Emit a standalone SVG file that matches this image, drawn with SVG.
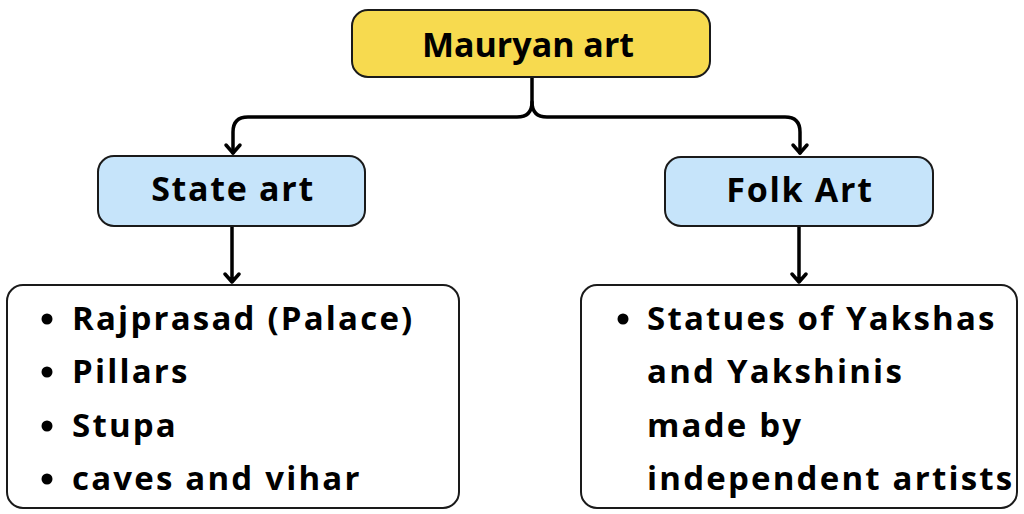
<svg xmlns="http://www.w3.org/2000/svg" width="1024" height="514" viewBox="0 0 1024 514">
<style>
.box{stroke:#1a1a1a;stroke-width:2}
.t{font-family:"Open Sans","Noto Sans","Liberation Sans",sans-serif;font-weight:bold;fill:#000}
.m{font-size:34px}
.h{font-size:34px;letter-spacing:1.7px}
.b{font-size:33px;letter-spacing:2.2px}
.c{fill:none;stroke:#000;stroke-width:3.5;stroke-linecap:round;stroke-linejoin:round}
</style>
<rect width="1024" height="514" fill="#fff"/>
<g id="connectors">
<path class="c" d="M532,78 L532,102 Q532,117 517,117 L248,117 Q233,117 233,132 L233,153"/>
<path class="c" d="M532,102 Q532,117 547,117 L785,117 Q800,117 800,132 L800,153"/>
<path class="c" d="M226,145 L233,153 L240,145"/>
<path class="c" d="M793,145 L800,153 L807,145"/>
<path class="c" d="M232,227 L232,282 M225,274 L232,282 L239,274"/>
<path class="c" d="M799,227 L799,282 M792,274 L799,282 L806,274"/>
</g>
<g id="mauryan">
<rect class="box" x="352" y="10" width="358" height="67" rx="16" fill="#F7DA4F"/>
<text class="t m" x="528" y="57" text-anchor="middle">Mauryan art</text>
</g>
<g id="state">
<rect class="box" x="98" y="156" width="267" height="70" rx="16" fill="#C6E4FA"/>
<text class="t h" x="233" y="201" text-anchor="middle">State art</text>
</g>
<g id="folk">
<rect class="box" x="665" y="157" width="268" height="69" rx="16" fill="#C6E4FA"/>
<text class="t h" x="800" y="202" text-anchor="middle">Folk Art</text>
</g>
<g id="statelist">
<rect class="box" x="7" y="285" width="452" height="223" rx="16" fill="#fff"/>
<circle cx="47" cy="319" r="5.5"/>
<circle cx="47" cy="372" r="5.5"/>
<circle cx="47" cy="426" r="5.5"/>
<circle cx="47" cy="479" r="5.5"/>
<text class="t b" x="72" y="330">Rajprasad (Palace)</text>
<text class="t b" x="72" y="383">Pillars</text>
<text class="t b" x="72" y="437">Stupa</text>
<text class="t b" x="72" y="490">caves and vihar</text>
</g>
<g id="folklist">
<rect class="box" x="581" y="285" width="436" height="223" rx="16" fill="#fff"/>
<circle cx="623" cy="319" r="5.5"/>
<text class="t b" x="647" y="330">Statues of Yakshas</text>
<text class="t b" x="647" y="383">and Yakshinis</text>
<text class="t b" x="647" y="437">made by</text>
<text class="t b" x="647" y="490">independent artists</text>
</g>
</svg>
